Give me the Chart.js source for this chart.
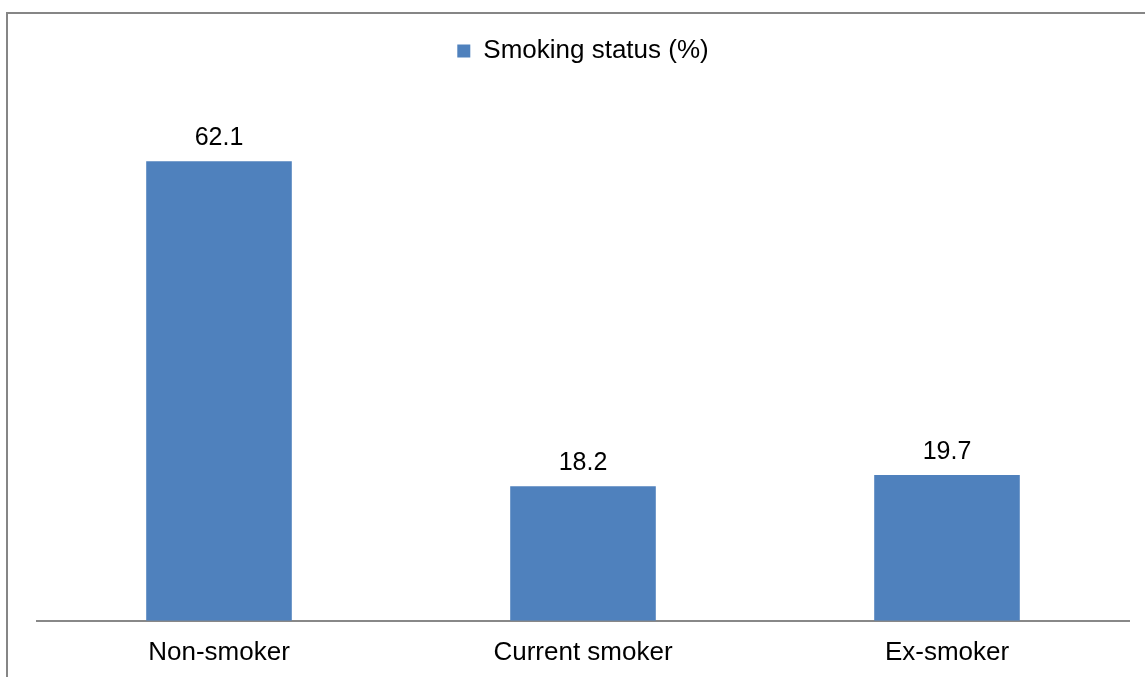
<!DOCTYPE html>
<html>
<head>
<meta charset="utf-8">
<script src="https://cdn.jsdelivr.net/npm/chart.js@4.4.0/dist/chart.umd.min.js"></script>
<style>
  html, body { margin: 0; padding: 0; background: #fff; overflow: hidden; }
  #wrap { position: relative; width: 1145px; height: 677px; }
  #frame { position: absolute; left: 6px; top: 12px; width: 1300px; height: 800px; border: 2px solid #868686; }
  #chart { position: absolute; left: 0; top: 0; }
</style>
</head>
<body>
<div id="wrap">
  <div id="frame"></div>
  <canvas id="chart" width="1145" height="677"></canvas>
</div>
<script>
const categories = ['Non-smoker', 'Current smoker', 'Ex-smoker'];
const smokingStatus = [62.1, 18.2, 19.7];
const seriesLabel = 'Smoking status (%)';

const FONT = '"Liberation Sans", Arial, sans-serif';

// value labels above each bar
const barValues = {
  id: 'barValues',
  afterDatasetsDraw(chart) {
    const ctx = chart.ctx;
    const meta = chart.getDatasetMeta(0);
    ctx.save();
    ctx.font = '25px ' + FONT;
    ctx.fillStyle = '#000';
    ctx.textAlign = 'center';
    ctx.textBaseline = 'alphabetic';
    meta.data.forEach((bar, i) => {
      ctx.fillText(smokingStatus[i].toFixed(1), bar.x, bar.y - 16);
    });
    ctx.restore();
  }
};

const ctx = document.getElementById('chart').getContext('2d');
new Chart(ctx, {
  type: 'bar',
  data: {
    labels: categories,
    datasets: [{
      label: seriesLabel,
      data: smokingStatus,
      backgroundColor: '#4F81BD',
      borderWidth: 0,
      categoryPercentage: 1,
      barPercentage: 0.4
    }]
  },
  options: {
    responsive: false,
    animation: false,
    layout: { padding: { top: 28, left: 37, right: 16, bottom: -7 } },
    plugins: {
      tooltip: { enabled: false },
      legend: {
        position: 'top',
        labels: {
          boxWidth: 13,
          boxHeight: 13,
          padding: 10,
          color: '#000',
          font: { family: FONT, size: 26 }
        }
      }
    },
    scales: {
      x: {
        grid: { display: false, drawTicks: false },
        border: { display: true, color: '#888', width: 2 },
        ticks: { color: '#000', padding: 16, font: { family: FONT, size: 26 } }
      },
      y: {
        display: false,
        min: 0,
        max: 73.9
      }
    }
  },
  plugins: [barValues]
});
</script>
</body>
</html>
